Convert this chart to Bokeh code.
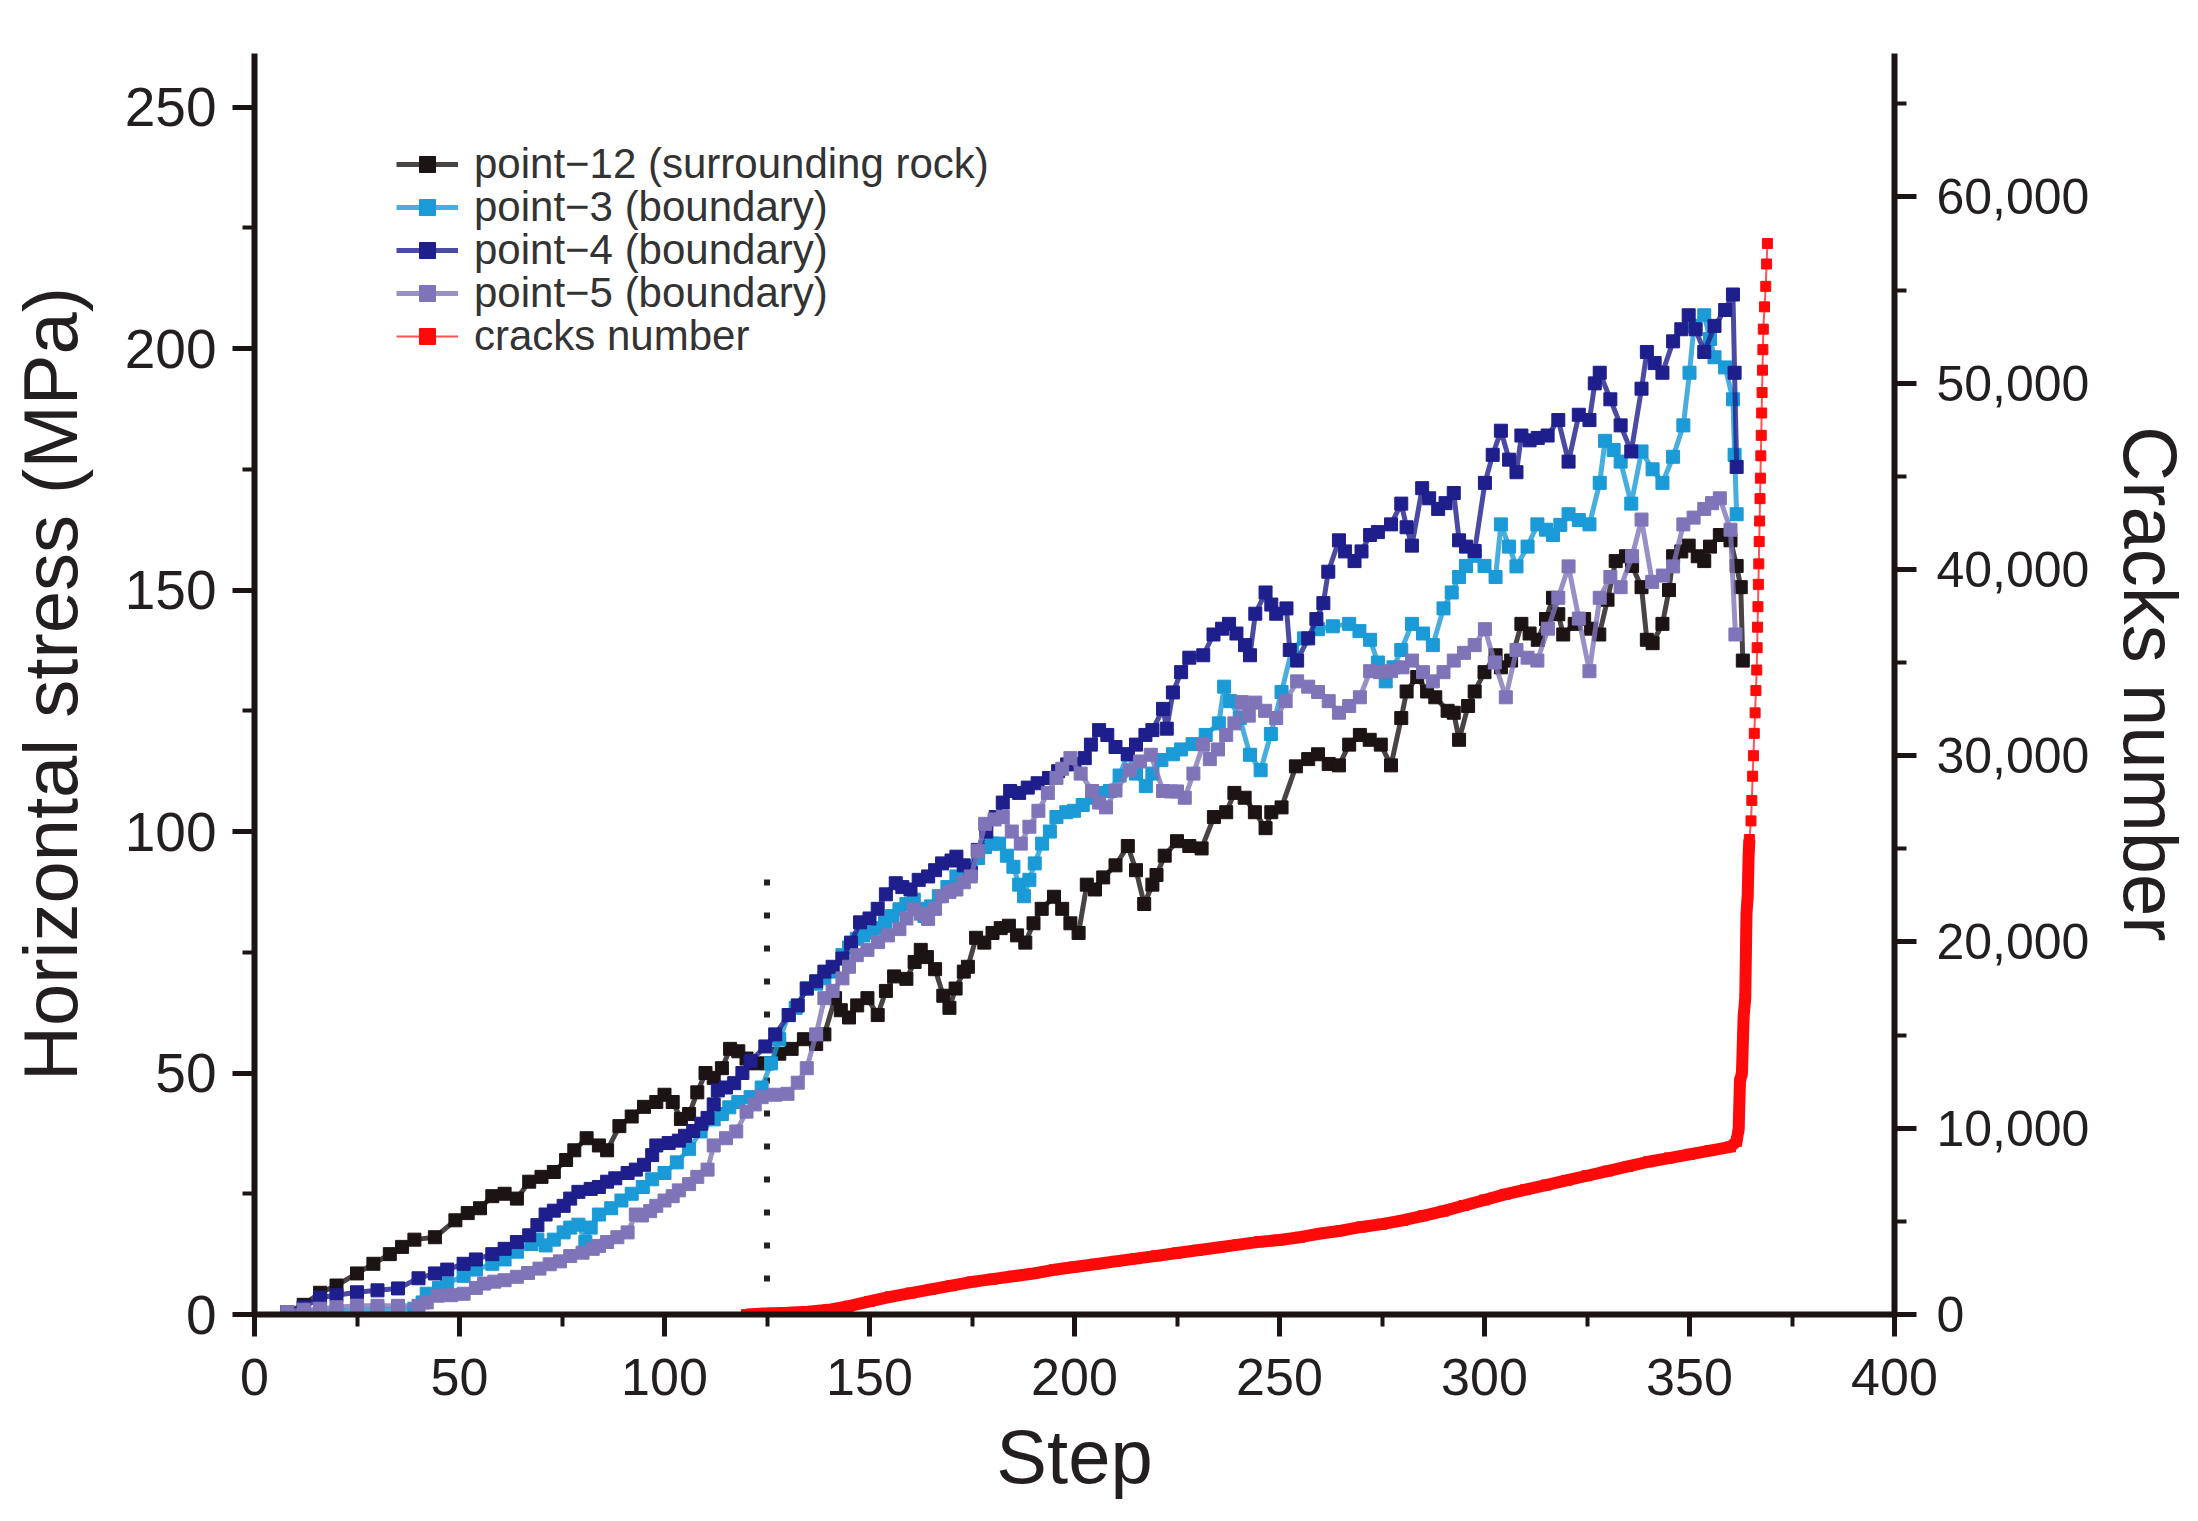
from bokeh.plotting import figure
from bokeh.models import (Range1d, LinearAxis, SingleIntervalTicker, NumeralTickFormatter,
                          Legend, LegendItem)
from bokeh.embed import file_html
from bokeh.resources import INLINE

# ---------------- data ----------------
p12_step = [8, 12, 16, 20, 25, 29, 33, 36, 39, 44, 49, 52, 55, 58, 61, 64, 67, 70, 73, 76, 78, 81, 84, 86,
            89, 92, 95, 98, 100, 102, 104, 106, 108, 110, 112, 114, 116, 118, 120, 122, 125, 128, 131, 134,
            137, 139, 141.6, 143, 145, 147, 149.5, 152, 154, 156, 159, 161, 162.5, 164, 166, 168, 169.5, 171,
            173, 174, 176, 178, 180, 182, 184, 186, 188, 190, 192, 195, 197, 199, 201, 203, 205, 207, 210,
            213, 215, 217, 219, 220, 222, 225, 228, 231, 234, 237, 239, 241.5, 244, 246.6, 248, 250.5, 254,
            257, 259.4, 262, 264.5, 267, 269.6, 272, 274.7, 277.2, 279.7, 281, 283.6, 286, 288, 291, 292.5,
            293.8, 296, 297.6, 300, 302.7, 304, 306.5, 309, 311, 313, 315, 316.7, 318, 319.2, 322, 324.3,
            326, 328, 330, 332, 334.5, 336, 338.3, 339.6, 341, 343.4, 345, 346, 348, 349.8, 352, 353.6, 355,
            357.4, 360, 361.5, 362.5, 363]
p12_mpa = [0.5, 2, 4.5, 6, 8.5, 10.5, 12.5, 14, 15.5, 16, 19.5, 21, 22, 24.5, 25, 24, 27.5, 28.5, 29.5, 32,
           34, 36.5, 35, 34, 39, 41, 43, 44, 45.5, 44, 40.5, 41.5, 46, 50, 49, 51, 55, 54.5, 53, 52, 52, 54,
           55, 57, 56, 58, 65.5, 63, 61.5, 64, 65.5, 62, 67, 70, 69.5, 73, 75.5, 74, 71.5, 66, 63.5, 67.5,
           71, 72, 78, 77, 79, 80, 80.5, 78.5, 77, 81, 84, 86.5, 84, 81, 79, 89, 88, 90.5, 93, 97, 92, 85,
           89, 91, 95, 98, 97, 96.5, 103, 104, 108, 107, 104, 100.7, 104, 105, 113.5, 115, 116, 114, 113.7,
           118, 120, 119, 118, 113.7, 123.5, 129, 132, 129, 127.8, 125, 124.6, 119, 126, 129, 133, 136.5,
           134, 135.4, 143, 141, 139.7, 144, 148.4, 145, 140.8, 143, 144, 142, 140.8, 148, 156, 157, 155,
           150.6, 139.7, 139, 143, 150, 157, 158, 159.2, 157, 156, 159, 161.4, 160.3, 155, 150.6, 135.4]

p3_step = [8, 12, 16, 20, 25, 30, 35, 39, 41, 42, 45, 47, 51, 54, 58, 61, 64, 67.5, 69, 71, 73, 75.4, 77,
           79, 80.7, 82, 84, 87, 89.5, 92, 94.7, 97, 100, 103, 106, 108.8, 112, 114, 115.8, 118, 121, 123.7,
           126, 128, 130.3, 132, 134.7, 137, 139, 141, 143.4, 145, 146.9, 148.5, 150.3, 152, 153.8, 155.5,
           157.3, 159, 160.8, 162, 163.4, 165, 166.9, 169, 171.2, 173, 174.7, 176.5, 178.2, 180, 181.6,
           183.5, 185.1, 186.5, 187.7, 189, 190.3, 192.1, 194, 195.6, 198, 199.9, 202, 204.3, 206, 208.6,
           211, 213, 215, 217.4, 219, 221.2, 224, 226, 228.8, 232, 235.2, 236.5, 238, 240.3, 242.8, 245.4,
           247.9, 250.5, 253, 256, 259.4, 263, 267, 269.5, 272.1, 274, 275.9, 277.8, 279.7, 282.3, 285,
           287.4, 290, 292, 293.8, 295.5, 297.6, 300, 302.7, 304, 306, 307.8, 310.5, 312.9, 315, 316.7,
           318.5, 320.5, 323, 325.6, 328.1, 329.4, 331.5, 333.2, 335.8, 338.3, 341, 343.4, 346, 348.5, 350,
           351.1, 353.6, 355, 356.1, 358.7, 360.6, 361, 361.5]
p3_mpa = [0.3, 0.5, 0.6, 0.8, 0.8, 1, 1, 1.2, 2.5, 4.3, 5.5, 6.4, 8, 9.3, 10.5, 11.4, 13, 14.6, 15.5, 14.3,
          15.5, 17, 18, 18.6, 15, 18, 20.7, 22, 23.6, 25, 26.4, 28, 29.3, 31.5, 34.3, 37.9, 40.4, 41.5, 42.9,
          44, 45, 47, 52, 57, 62, 63.5, 67.5, 68.5, 69.6, 71, 74.4, 76, 77.8, 78.5, 79.1, 80, 81.2, 82.5,
          83.9, 85, 85.9, 84, 82.5, 84.5, 86.6, 88.5, 90.7, 91.5, 92.1, 94.5, 96.8, 97.5, 97.5, 95, 92.7,
          89, 86.6, 90, 93.4, 97.5, 100, 103, 104, 104.3, 105.5, 107, 108, 108.4, 111.6, 116, 112, 109.4,
          112, 114.8, 116, 117, 118.1, 120, 122.4, 130, 127, 123.5, 115.9, 112.7, 120.2, 128.9, 137.6, 140,
          141.9, 142.5, 143, 141.5, 139.7, 135, 131.1, 134, 137.6, 143, 141, 138.6, 146.2, 149.5, 152.7,
          155, 157.1, 155, 152.7, 163.6, 159, 154.9, 159, 163.6, 162.5, 161.4, 163.5, 165.7, 164.5, 163.6,
          172.2, 180.9, 179, 176.6, 167.9, 178.7, 175, 172.2, 177.6, 184.1, 195, 204.7, 206.9, 202, 198.2,
          196.1, 189.5, 178, 165.7]

p4_step = [8, 12, 16, 20, 25, 30, 35, 40, 44, 47, 51, 54, 58, 61, 64, 67, 69, 71, 73, 75.4, 77, 79, 82, 84,
           86, 88, 91, 93, 95, 97, 98, 101, 103.5, 105, 107, 109, 110.5, 112, 113, 115, 117, 119, 121,
           124.6, 127, 130.3, 132.5, 134.7, 137, 139, 141, 143.4, 145.5, 147.7, 150, 152, 154, 156.4, 158,
           160, 162, 164.3, 166, 167.7, 170, 171.2, 173, 174.7, 176.4, 178.5, 180.8, 182.5, 184.3, 186.5,
           188.6, 191, 193.8, 196, 198.2, 200, 202.5, 204, 206, 208, 210, 213, 215, 217.3, 219, 221.6,
           222.5, 224, 226, 228, 231.4, 233.9, 236, 237.7, 239.5, 241.6, 242.8, 244.1, 246.6, 248, 249.2,
           251.7, 252.5, 254.3, 257, 259, 260.7, 261.9, 264.5, 266, 268.3, 270, 272.1, 274, 277.2, 279.7,
           281, 282.3, 284.8, 286.5, 288.7, 290.5, 292.5, 293.8, 295.5, 297.6, 300.1, 302, 304, 306, 307.8,
           309, 311, 313, 315.4, 318, 320.5, 323, 325.6, 326.9, 328.1, 330.7, 333.2, 335.8, 338.3, 339.6,
           341.5, 343.4, 346, 348, 349.8, 351.5, 353.6, 356.1, 358.7, 360.6, 361, 361.5]
p4_mpa = [0.5, 1.5, 3.5, 4, 4.6, 5, 5.4, 7.5, 8.5, 9.3, 10.5, 11.4, 12.5, 13.6, 15, 16.4, 18.5, 20.7, 21.5,
          22.5, 24, 25.4, 26, 26.4, 27.5, 28.2, 29.3, 30, 31, 33, 35, 35.5, 36, 37, 38, 39.5, 40.7, 43.5,
          46.4, 47, 47.9, 50, 52.5, 55.5, 58, 62, 64, 67.5, 69, 71, 72, 73.7, 77, 81.2, 82, 84, 87, 89.3,
          88.5, 88, 90, 90.7, 92, 93.4, 94, 94.8, 93, 91.4, 96.2, 100, 103, 106, 108.4, 108, 109.1, 110,
          111.1, 112.5, 113.9, 114, 115.2, 118, 121, 120, 117.5, 116, 118, 120, 121, 125.4, 121.3, 128.8,
          133, 136, 136.5, 140.8, 142, 143, 141, 138.6, 136.5, 145.1, 149.5, 147, 145.1, 146.2, 137.6,
          135.4, 140, 144, 147.3, 153.8, 160.3, 158, 156, 158, 161.4, 162, 163.6, 167.9, 163, 159.2, 171.1,
          169, 166.8, 168, 170.1, 160.3, 159, 158.1, 172.2, 178, 183, 177, 174.4, 182, 181, 181.5, 182,
          185.2, 176.6, 186.3, 185.2, 192.8, 195, 189.5, 184.1, 178.7, 191.7, 199.3, 197, 195, 201.5, 204,
          206.9, 204, 199.3, 204.7, 208, 211.2, 195, 175.5]

p5_step = [8, 12, 16, 20, 25, 30, 35, 40, 42, 44.7, 48, 51, 54, 56, 58.5, 61, 64, 66.7, 69.5, 72, 74.5, 77,
           80, 82.5, 84, 86, 88.5, 91, 93, 94.5, 96.5, 98, 100, 102, 103.5, 106, 108, 110.5, 112, 115,
           117.5, 120, 122, 123.7, 127, 130, 132.5, 134.7, 137, 139, 141, 143.4, 145, 146.9, 149.5, 152.1,
           154.5, 157.3, 159, 160.8, 162.5, 164.3, 166, 167.7, 169.5, 171.2, 173, 174.7, 176.5, 178.2,
           180.5, 182.5, 184.7, 186.9, 189, 191.2, 193.5, 195.6, 197, 199, 201.5, 204.3, 206, 207.7, 210,
           213.5, 216, 218.6, 221.6, 223.5, 225, 226.9, 229, 231.4, 233, 235, 237, 239, 240.8, 242.5, 244.1,
           246.5, 249.2, 251.5, 254.3, 257, 259.4, 262, 264.5, 267, 269.6, 272.1, 274.5, 277.2, 280, 282.3,
           285, 287.4, 290, 292.5, 295, 297.6, 300.1, 302.5, 305.2, 307.8, 310.5, 312.9, 315.5, 318, 320.5,
           323, 325.6, 328.1, 330.7, 333.2, 336, 338.3, 340.9, 343.5, 346, 348.5, 351, 353.6, 355.5, 357.4,
           360, 361.2]
p5_mpa = [0.5, 1, 1.2, 1.5, 1.8, 1.8, 1.8, 1.8, 2.5, 3.9, 4, 4.3, 5.5, 6.4, 6.8, 7.1, 7.8, 8.6, 9.5, 10.4,
          11, 12.1, 12.8, 13.6, 14.2, 15, 16, 17, 20.7, 20.5, 21.4, 22.5, 23.6, 24.5, 25.7, 27, 28.5, 30,
          35, 36.5, 37.9, 42, 43.5, 45, 45.5, 45.7, 48, 51, 58, 65.5, 67, 69.6, 72, 74.4, 75.5, 77.1, 78.5,
          79.8, 82, 83.9, 83, 81.9, 84, 86.6, 87.5, 88, 89.5, 90.7, 96, 101.6, 102.5, 103, 100, 97.5, 101,
          104.3, 108, 111.1, 113, 115.2, 112, 108.4, 106, 105, 108.5, 112.7, 114.5, 115.9, 108.4, 108.3,
          108.3, 107, 112, 118.1, 115, 117, 120, 122.4, 126.8, 124, 126.7, 125, 123.5, 127, 131.1, 130,
          128.9, 127, 124.6, 126, 127.8, 133.2, 133, 133.2, 134, 135.4, 133, 131.1, 133, 135.4, 137, 138.6,
          141.9, 135, 127.8, 137.6, 136, 135.4, 142, 148.4, 154.9, 144.1, 133.2, 148.4, 152.7, 150.6, 157,
          164.6, 151.7, 153, 154.9, 163.6, 165, 166.8, 168, 169, 162.5, 140.8]

cracks_step = [120, 125, 130, 135, 140, 145, 150, 155, 160, 165, 170, 175, 180, 185, 190, 195, 200, 205,
               210, 215, 220, 225, 230, 235, 240, 245, 250, 255, 260, 265, 270, 275, 280, 285, 290, 295,
               300, 305, 310, 315, 320, 325, 330, 335, 340, 345, 350, 355, 360, 361.5, 362, 362.3, 362.8,
               363.2, 363.6, 363.9, 364.2, 364.4, 364.6,
               365.0, 365.2, 365.4, 365.6, 365.8, 366.0, 366.2, 366.4, 366.5, 366.6, 366.7, 366.8, 366.9,
               367.0, 367.1, 367.2, 367.3, 367.4, 367.5, 367.6, 367.7, 367.8, 367.9, 368.0, 368.3, 368.6,
               368.8, 369.0]
cracks_num = [0, 60, 100, 150, 250, 450, 700, 950, 1150, 1350, 1550, 1750, 1900, 2050, 2200, 2400, 2550,
              2700, 2850, 3000, 3150, 3300, 3450, 3600, 3750, 3900, 4000, 4150, 4350, 4500, 4700, 4850,
              5050, 5300, 5550, 5850, 6150, 6450, 6700, 6950, 7200, 7450, 7700, 7950, 8200, 8400, 8600,
              8800, 9000, 9300, 10000, 12500, 13000, 16000, 17000, 21500, 22500, 24500, 25500,
              26500, 27600, 28900, 30000, 31200, 32300, 33500, 34600, 35800, 36900, 38000, 39200, 40300,
              41500, 42600, 43800, 44900, 46100, 47200, 48400, 49500, 50700, 51800, 52900, 54100, 55200,
              56400, 57500]
cracks_solid_end = 59   # number of points in the continuous (solid-looking) part

divider_step = [125, 125]
divider_mpa = [0, 91.5]

labels = ["point\u221212 (surrounding rock)", "point\u22123 (boundary)", "point\u22124 (boundary)",
          "point\u22125 (boundary)", "cracks number"]
colors = ["#1c1414", "#1a9ad6", "#1e1e8c", "#8074b8", "#ff0a0a"]

# ---------------- figure ----------------
FONT = "Liberation Sans"
TXT = "#231f20"
AX = "#1c1414"

p = figure(width=2196, height=1519, output_backend="svg", toolbar_location=None,
           x_range=Range1d(0, 400), y_range=Range1d(0, 261.1),
           min_border_left=254, min_border_right=299, min_border_top=53, min_border_bottom=205,
           background_fill_color="white", border_fill_color="white")
p.outline_line_color = None
p.grid.visible = False
p.extra_y_ranges = {"cracks": Range1d(0, 67700)}

def style_axis(ax, interval, label, tick_font, tick_standoff, label_standoff):
    ax.ticker = SingleIntervalTicker(interval=interval, num_minor_ticks=2)
    ax.axis_label = label
    ax.axis_label_text_font = FONT
    ax.axis_label_text_font_size = "76px"
    ax.axis_label_text_font_style = "normal"
    ax.axis_label_text_color = TXT
    ax.axis_label_standoff = label_standoff
    ax.major_label_text_font = FONT
    ax.major_label_text_font_size = tick_font
    ax.major_label_text_color = TXT
    ax.major_label_standoff = tick_standoff
    ax.axis_line_width = 6
    ax.axis_line_color = AX
    ax.major_tick_line_color = AX
    ax.minor_tick_line_color = AX
    ax.major_tick_line_width = 5
    ax.minor_tick_line_width = 4
    ax.major_tick_in = 0
    ax.major_tick_out = 22
    ax.minor_tick_in = 0
    ax.minor_tick_out = 12

style_axis(p.xaxis[0], 50, "Step", "52px", 22, 16)
style_axis(p.yaxis[0], 50, "Horizontal stress (MPa)", "55px", 16, 29)

raxis = LinearAxis(y_range_name="cracks")
style_axis(raxis, 10000, "Cracks number", "50px", 20, 16)
raxis.formatter = NumeralTickFormatter(format="0,0")
p.add_layout(raxis, "right")

# divider
p.line(divider_step, divider_mpa, line_color="#222222", line_width=6, line_dash="6 27")

series = [(p12_step, p12_mpa), (p3_step, p3_mpa), (p4_step, p4_mpa), (p5_step, p5_mpa)]
items = []
for (xs, ys), lab, col in zip(series, labels[:4], colors[:4]):
    lr = p.line(xs, ys, line_color=col, line_width=5, line_alpha=0.8)
    sr = p.scatter(xs, ys, marker="square", size=13, color=col)
    items.append(LegendItem(label=lab, renderers=[lr, sr]))

# cracks: thick continuous part + markers with thin line
p.line(cracks_step[:cracks_solid_end], cracks_num[:cracks_solid_end], line_color=colors[4],
       line_width=12, y_range_name="cracks")
lr = p.line(cracks_step, cracks_num, line_color=colors[4], line_width=2, line_alpha=0.7,
            y_range_name="cracks")
sr = p.scatter(cracks_step, cracks_num, marker="square", size=10, color=colors[4], y_range_name="cracks")
items.append(LegendItem(label=labels[4], renderers=[lr, sr]))

# one legend box per entry so rows can sit closer together than Bokeh's default row height
for i, item in enumerate(items):
    legend = Legend(items=[item], location=(142, 1126 - 43 * i))
    legend.label_text_font = FONT
    legend.label_text_font_size = "42px"
    legend.label_text_color = "#333333"
    legend.glyph_width = 62
    legend.glyph_height = 40
    legend.label_height = 40
    legend.spacing = 0
    legend.padding = 0
    legend.margin = 0
    legend.label_standoff = 16
    legend.background_fill_alpha = 0
    legend.border_line_alpha = 0
    p.add_layout(legend, "center")

open("out.html", "w").write(file_html(p, INLINE))
